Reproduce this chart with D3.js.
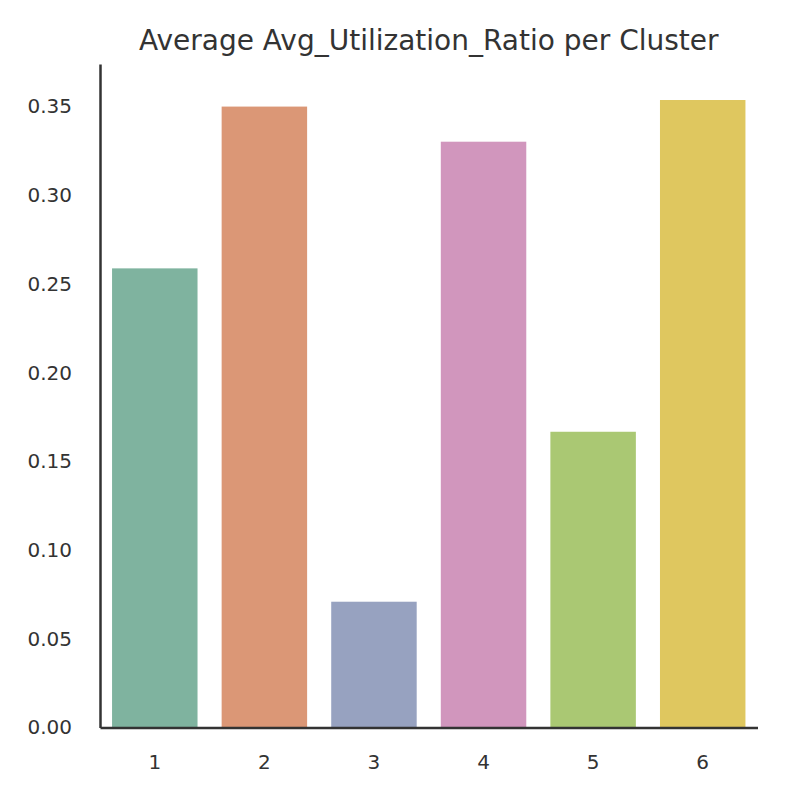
<!DOCTYPE html>
<html>
<head>
<meta charset="utf-8">
<script src="https://cdn.jsdelivr.net/npm/d3@7"></script>
<style>
  body { margin: 0; background: #fff; }
  svg text { font-family: "DejaVu Sans", sans-serif; fill: #333; }
</style>
</head>
<body>
<div id="vis"></div>
<script>
// data
const clusters = ["1", "2", "3", "4", "5", "6"];
const avgUtilization = [0.2588, 0.3500, 0.0709, 0.3302, 0.1667, 0.3537];
const barColors = ["#7fb39f", "#db9776", "#97a2c0", "#d196bd", "#aac873", "#dfc75f"];
const yTicks = [0, 0.05, 0.10, 0.15, 0.20, 0.25, 0.30, 0.35];

const W = 792, H = 792;
const margin = {top: 64, right: 34.5, bottom: 64.5, left: 100};

const svg = d3.select("#vis").append("svg")
    .attr("width", W)
    .attr("height", H);

const x = d3.scaleBand()
    .domain(clusters)
    .range([margin.left, W - margin.right])
    .padding(0);

const y = d3.scaleLinear()
    .domain([0, 0.374])
    .range([H - margin.bottom, margin.top]);

// bars (width ~0.78 of the slot)
const barW = x.step() * 0.78;
svg.append("g")
  .selectAll("rect")
  .data(avgUtilization)
  .join("rect")
    .attr("x", (d, i) => x(clusters[i]) + (x.step() - barW) / 2)
    .attr("y", d => y(d))
    .attr("width", barW)
    .attr("height", d => y(0) - y(d))
    .attr("fill", (d, i) => barColors[i]);

// y axis
const yAxis = svg.append("g")
    .attr("transform", `translate(${margin.left},0)`)
    .call(d3.axisLeft(y).tickValues(yTicks).tickFormat(d3.format(".2f")).tickSize(0).tickPadding(28));
yAxis.select(".domain").attr("stroke", "#333").attr("stroke-width", 2.5);
yAxis.selectAll("text").style("font-size", "20px").attr("fill", "#333");

// x axis
const xAxis = svg.append("g")
    .attr("transform", `translate(0,${H - margin.bottom})`)
    .call(d3.axisBottom(x).tickSize(0).tickPadding(27));
xAxis.select(".domain").attr("stroke", "#333").attr("stroke-width", 2.5);
xAxis.selectAll("text").style("font-size", "20px").attr("fill", "#333");

// title
svg.append("text")
    .attr("x", (margin.left + W - margin.right) / 2)
    .attr("y", 50)
    .attr("text-anchor", "middle")
    .style("font-size", "28px")
    .text("Average Avg_Utilization_Ratio per Cluster");
</script>
</body>
</html>
